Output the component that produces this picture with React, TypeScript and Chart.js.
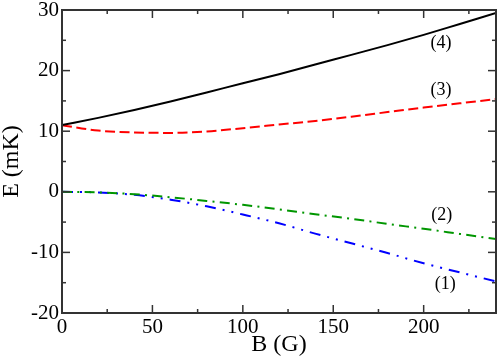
import React, { useEffect, useRef } from 'react';
import { Chart, registerables } from 'chart.js';

Chart.register(...registerables);

// Magnetic field B (G)
const B = [0, 20, 40, 60, 80, 100, 120, 140, 160, 180, 200, 220, 240];
// Energies E (mK) for the four levels
const E1 = [0, -0.1, -0.5, -1.3, -2.4, -3.75, -5.2, -6.9, -8.5, -10.1, -11.8, -13.3, -14.8];
const E2 = [0, -0.1, -0.4, -0.9, -1.5, -2.15, -2.9, -3.7, -4.45, -5.3, -6.1, -6.95, -7.8];
const E3 = [11.0, 10.1, 9.8, 9.72, 9.95, 10.5, 11.1, 11.7, 12.4, 13.15, 13.9, 14.6, 15.3];
const E4 = [11.0, 12.2, 13.5, 14.9, 16.4, 17.9, 19.4, 21.0, 22.6, 24.2, 25.9, 27.7, 29.5];

const curveLabels = ['(1)', '(2)', '(3)', '(4)'];
const labelB = [212, 210, 209.6, 209.6];
const labelE = [-15.2, -3.8, 16.8, 24.55];

const X_MIN = 0, X_MAX = 240, X_MAJOR = 50, X_MINOR = 25;
const Y_MIN = -20, Y_MAX = 30, Y_MAJOR = 10, Y_MINOR = 5;

const SERIF = '"Liberation Serif", "Times New Roman", serif';

const framePlugin = {
  id: 'frameTicks',
  afterDatasetsDraw(chart: any) {
    const { ctx, chartArea: a, scales } = chart;
    const x = scales.x, y = scales.y;
    ctx.save();
    ctx.strokeStyle = '#333';
    ctx.lineWidth = 1.5;
    const seg = (x1: number, y1: number, x2: number, y2: number) => {
      ctx.beginPath(); ctx.moveTo(x1, y1); ctx.lineTo(x2, y2); ctx.stroke();
    };
    for (let v = X_MIN; v <= X_MAX; v += X_MINOR) {
      const px = x.getPixelForValue(v);
      const len = v % X_MAJOR === 0 ? 8 : 4;
      seg(px, a.bottom, px, a.bottom - len);
      seg(px, a.top, px, a.top + len);
    }
    for (let v = Y_MIN; v <= Y_MAX; v += Y_MINOR) {
      const py = y.getPixelForValue(v);
      const len = v % Y_MAJOR === 0 ? 8 : 4;
      seg(a.left, py, a.left + len, py);
      seg(a.right, py, a.right - len, py);
    }
    ctx.lineWidth = 2;
    ctx.strokeRect(a.left, a.top, a.right - a.left, a.bottom - a.top);
    ctx.fillStyle = '#000';
    ctx.font = '18px ' + SERIF;
    ctx.textAlign = 'center';
    ctx.textBaseline = 'middle';
    for (let i = 0; i < curveLabels.length; i++) {
      ctx.fillText(curveLabels[i], x.getPixelForValue(labelB[i]), y.getPixelForValue(labelE[i]));
    }
    ctx.restore();
  },
};

const toPts = (ys: number[]) => B.map((b, i) => ({ x: b, y: ys[i] }));

export default function App() {
  const ref = useRef<HTMLCanvasElement | null>(null);
  useEffect(() => {
    if (!ref.current) return;
    const common = { fill: false, pointRadius: 0, borderWidth: 2, cubicInterpolationMode: 'monotone' as const };
    const chart = new Chart(ref.current, {
      type: 'line',
      data: {
        datasets: [
          { ...common, label: '(4)', data: toPts(E4), borderColor: '#000000' },
          { ...common, label: '(3)', data: toPts(E3), borderColor: '#ff0000', borderDash: [10, 4.5] },
          { ...common, label: '(2)', data: toPts(E2), borderColor: 'rgb(0,150,0)', borderDash: [10, 5.3, 2, 5.3] },
          { ...common, label: '(1)', data: toPts(E1), borderColor: '#0000ff', borderDash: [11, 7, 2, 7, 2, 7] },
        ],
      },
      options: {
        responsive: false,
        animation: false,
        devicePixelRatio: 1,
        layout: { padding: { left: 0, right: 2, top: 10, bottom: 0 } },
        plugins: { legend: { display: false }, tooltip: { enabled: false } },
        scales: {
          x: {
            type: 'linear',
            min: X_MIN,
            max: X_MAX,
            grid: { display: false, drawTicks: false },
            border: { display: false },
            ticks: { stepSize: X_MAJOR, color: '#000', padding: 2, font: { family: SERIF, size: 21 }, maxRotation: 0 },
            afterBuildTicks: (s: any) => { s.ticks = s.ticks.filter((t: any) => t.value % X_MAJOR === 0); },
            afterFit: (s: any) => { s.height = 46; s.paddingLeft = 0; s.paddingRight = 0; },
            title: { display: true, text: 'B (G)', color: '#000', font: { family: SERIF, size: 24, lineHeight: 1 }, padding: { top: 0, bottom: 2 } },
          },
          y: {
            type: 'linear',
            min: Y_MIN,
            max: Y_MAX,
            grid: { display: false, drawTicks: false },
            border: { display: false },
            ticks: { stepSize: Y_MAJOR, color: '#000', padding: 3, font: { family: SERIF, size: 21 } },
            afterFit: (s: any) => { s.width = 62; s.paddingTop = 0; s.paddingBottom = 0; },
            title: { display: true, text: 'E (mK)', color: '#000', font: { family: SERIF, size: 24, lineHeight: 1 }, padding: { top: 0, bottom: 0 } },
          },
        },
      },
      plugins: [framePlugin],
    });
    return () => chart.destroy();
  }, []);
  return (
    <div style={{ position: 'fixed', left: 0, top: 0, width: 498, height: 359, background: '#fff' }}>
      <canvas ref={ref} width={498} height={359} />
    </div>
  );
}
